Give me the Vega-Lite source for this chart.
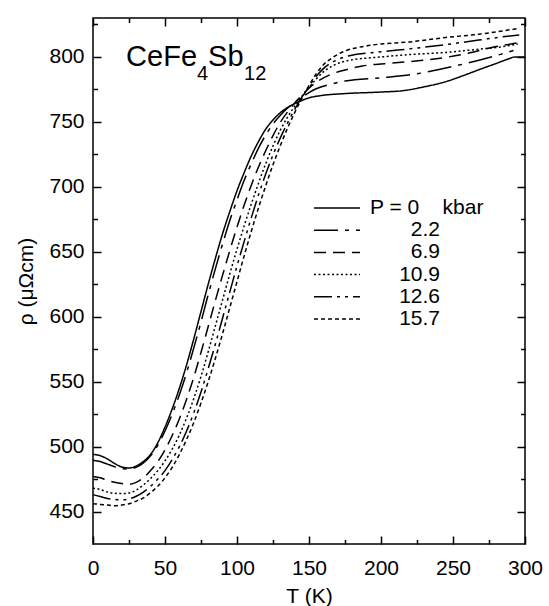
{
  "$schema": "https://vega.github.io/schema/vega-lite/v6.json",
  "width": 432,
  "height": 526,
  "autosize": {"type": "none"},
  "padding": {"left": 93, "top": 18, "right": 24, "bottom": 62},
  "background": "white",
  "datasets": {
    "curves": [
      {"P":"0","T":0,"r":494},{"P":"0","T":5,"r":493},{"P":"0","T":10,"r":490.5},{"P":"0","T":15,"r":487},{"P":"0","T":20,"r":484.3},{"P":"0","T":25,"r":483.5},{"P":"0","T":30,"r":485},{"P":"0","T":35,"r":488.5},{"P":"0","T":40,"r":494},{"P":"0","T":45,"r":503},{"P":"0","T":50,"r":515},{"P":"0","T":55,"r":529},{"P":"0","T":60,"r":545},{"P":"0","T":65,"r":563},{"P":"0","T":70,"r":583},{"P":"0","T":75,"r":604},{"P":"0","T":80,"r":625},{"P":"0","T":85,"r":645},{"P":"0","T":90,"r":664},{"P":"0","T":95,"r":681},{"P":"0","T":100,"r":697},{"P":"0","T":105,"r":711},{"P":"0","T":110,"r":724},{"P":"0","T":115,"r":735},{"P":"0","T":120,"r":744.5},{"P":"0","T":125,"r":751.5},{"P":"0","T":130,"r":757},{"P":"0","T":135,"r":761},{"P":"0","T":140,"r":764},{"P":"0","T":145,"r":766.5},{"P":"0","T":150,"r":768.5},{"P":"0","T":160,"r":770.5},{"P":"0","T":175,"r":771.8},{"P":"0","T":200,"r":773},{"P":"0","T":215,"r":774},{"P":"0","T":230,"r":777},{"P":"0","T":245,"r":781},{"P":"0","T":258,"r":786},{"P":"0","T":270,"r":791},{"P":"0","T":280,"r":795},{"P":"0","T":288,"r":798.3},{"P":"0","T":293,"r":800},{"P":"0","T":300,"r":800},
      {"P":"2.2","T":0,"r":489.5},{"P":"2.2","T":5,"r":488.5},{"P":"2.2","T":10,"r":486.5},{"P":"2.2","T":15,"r":484.5},{"P":"2.2","T":20,"r":483},{"P":"2.2","T":25,"r":482.8},{"P":"2.2","T":30,"r":484},{"P":"2.2","T":35,"r":487.5},{"P":"2.2","T":40,"r":493},{"P":"2.2","T":45,"r":501},{"P":"2.2","T":50,"r":512},{"P":"2.2","T":55,"r":525},{"P":"2.2","T":60,"r":540},{"P":"2.2","T":65,"r":557},{"P":"2.2","T":70,"r":576},{"P":"2.2","T":75,"r":596},{"P":"2.2","T":80,"r":617},{"P":"2.2","T":85,"r":637},{"P":"2.2","T":90,"r":656},{"P":"2.2","T":95,"r":674},{"P":"2.2","T":100,"r":690},{"P":"2.2","T":105,"r":705},{"P":"2.2","T":110,"r":718},{"P":"2.2","T":115,"r":730},{"P":"2.2","T":120,"r":740},{"P":"2.2","T":125,"r":748.5},{"P":"2.2","T":130,"r":755},{"P":"2.2","T":135,"r":760.5},{"P":"2.2","T":140,"r":765},{"P":"2.2","T":145,"r":769},{"P":"2.2","T":150,"r":772.5},{"P":"2.2","T":155,"r":775.5},{"P":"2.2","T":165,"r":779},{"P":"2.2","T":175,"r":781.5},{"P":"2.2","T":200,"r":784},{"P":"2.2","T":222,"r":786.5},{"P":"2.2","T":245,"r":791.5},{"P":"2.2","T":268,"r":797.5},{"P":"2.2","T":283,"r":802},{"P":"2.2","T":292,"r":805},
      {"P":"6.9","T":0,"r":477},{"P":"6.9","T":5,"r":476},{"P":"6.9","T":10,"r":474},{"P":"6.9","T":15,"r":472.5},{"P":"6.9","T":20,"r":471.5},{"P":"6.9","T":25,"r":471},{"P":"6.9","T":30,"r":472.5},{"P":"6.9","T":35,"r":476},{"P":"6.9","T":40,"r":481.5},{"P":"6.9","T":45,"r":488.5},{"P":"6.9","T":50,"r":497.5},{"P":"6.9","T":55,"r":508.5},{"P":"6.9","T":60,"r":521.5},{"P":"6.9","T":65,"r":536.5},{"P":"6.9","T":70,"r":553.5},{"P":"6.9","T":75,"r":572.5},{"P":"6.9","T":80,"r":592.5},{"P":"6.9","T":85,"r":612.5},{"P":"6.9","T":90,"r":632},{"P":"6.9","T":95,"r":651},{"P":"6.9","T":100,"r":669},{"P":"6.9","T":105,"r":686},{"P":"6.9","T":110,"r":701.5},{"P":"6.9","T":115,"r":715.5},{"P":"6.9","T":120,"r":728},{"P":"6.9","T":125,"r":739.5},{"P":"6.9","T":130,"r":749.5},{"P":"6.9","T":135,"r":757.5},{"P":"6.9","T":140,"r":764.5},{"P":"6.9","T":145,"r":770.5},{"P":"6.9","T":150,"r":776},{"P":"6.9","T":155,"r":780.5},{"P":"6.9","T":165,"r":786.5},{"P":"6.9","T":175,"r":790},{"P":"6.9","T":187,"r":793},{"P":"6.9","T":210,"r":795.5},{"P":"6.9","T":234,"r":798},{"P":"6.9","T":257,"r":802},{"P":"6.9","T":280,"r":808},{"P":"6.9","T":296,"r":811},
      {"P":"10.9","T":0,"r":468},{"P":"10.9","T":5,"r":467},{"P":"10.9","T":10,"r":465},{"P":"10.9","T":15,"r":464},{"P":"10.9","T":20,"r":463.8},{"P":"10.9","T":25,"r":464.3},{"P":"10.9","T":30,"r":466.5},{"P":"10.9","T":35,"r":470.5},{"P":"10.9","T":40,"r":475.5},{"P":"10.9","T":45,"r":481.5},{"P":"10.9","T":50,"r":489},{"P":"10.9","T":55,"r":498},{"P":"10.9","T":60,"r":509},{"P":"10.9","T":65,"r":522},{"P":"10.9","T":70,"r":537},{"P":"10.9","T":75,"r":554},{"P":"10.9","T":80,"r":573},{"P":"10.9","T":85,"r":593},{"P":"10.9","T":90,"r":613},{"P":"10.9","T":95,"r":633},{"P":"10.9","T":100,"r":652},{"P":"10.9","T":105,"r":670},{"P":"10.9","T":110,"r":687},{"P":"10.9","T":115,"r":703},{"P":"10.9","T":120,"r":718},{"P":"10.9","T":125,"r":731.5},{"P":"10.9","T":130,"r":743.5},{"P":"10.9","T":135,"r":753.5},{"P":"10.9","T":140,"r":762},{"P":"10.9","T":145,"r":769.5},{"P":"10.9","T":150,"r":776.5},{"P":"10.9","T":155,"r":783},{"P":"10.9","T":160,"r":788.5},{"P":"10.9","T":167,"r":793.5},{"P":"10.9","T":176,"r":797},{"P":"10.9","T":200,"r":800},{"P":"10.9","T":222,"r":802},{"P":"10.9","T":245,"r":803.5},{"P":"10.9","T":268,"r":806},{"P":"10.9","T":285,"r":808},{"P":"10.9","T":295,"r":810},
      {"P":"12.6","T":0,"r":463},{"P":"12.6","T":5,"r":461.5},{"P":"12.6","T":10,"r":460},{"P":"12.6","T":15,"r":459.3},{"P":"12.6","T":20,"r":459},{"P":"12.6","T":25,"r":459.7},{"P":"12.6","T":30,"r":461.8},{"P":"12.6","T":35,"r":465},{"P":"12.6","T":40,"r":469.5},{"P":"12.6","T":45,"r":475},{"P":"12.6","T":50,"r":481.5},{"P":"12.6","T":55,"r":490},{"P":"12.6","T":60,"r":500},{"P":"12.6","T":65,"r":512},{"P":"12.6","T":70,"r":526},{"P":"12.6","T":75,"r":542},{"P":"12.6","T":80,"r":560},{"P":"12.6","T":85,"r":579},{"P":"12.6","T":90,"r":599},{"P":"12.6","T":95,"r":619},{"P":"12.6","T":100,"r":639},{"P":"12.6","T":105,"r":658},{"P":"12.6","T":110,"r":676.5},{"P":"12.6","T":115,"r":694},{"P":"12.6","T":120,"r":710},{"P":"12.6","T":125,"r":724.5},{"P":"12.6","T":130,"r":737.5},{"P":"12.6","T":135,"r":749},{"P":"12.6","T":140,"r":759.5},{"P":"12.6","T":145,"r":769},{"P":"12.6","T":150,"r":777.5},{"P":"12.6","T":155,"r":785},{"P":"12.6","T":160,"r":791},{"P":"12.6","T":168,"r":797},{"P":"12.6","T":178,"r":801},{"P":"12.6","T":200,"r":804},{"P":"12.6","T":222,"r":806.5},{"P":"12.6","T":245,"r":809.5},{"P":"12.6","T":268,"r":813},{"P":"12.6","T":288,"r":816},{"P":"12.6","T":296,"r":817},
      {"P":"15.7","T":0,"r":456},{"P":"15.7","T":5,"r":455.5},{"P":"15.7","T":10,"r":455},{"P":"15.7","T":15,"r":454.5},{"P":"15.7","T":20,"r":455},{"P":"15.7","T":25,"r":456},{"P":"15.7","T":30,"r":458},{"P":"15.7","T":35,"r":460.5},{"P":"15.7","T":40,"r":464.5},{"P":"15.7","T":45,"r":469.5},{"P":"15.7","T":50,"r":476},{"P":"15.7","T":55,"r":484},{"P":"15.7","T":60,"r":494},{"P":"15.7","T":65,"r":505.5},{"P":"15.7","T":70,"r":518.5},{"P":"15.7","T":75,"r":533.5},{"P":"15.7","T":80,"r":550},{"P":"15.7","T":85,"r":568},{"P":"15.7","T":90,"r":587},{"P":"15.7","T":95,"r":607},{"P":"15.7","T":100,"r":627},{"P":"15.7","T":105,"r":647},{"P":"15.7","T":110,"r":666},{"P":"15.7","T":115,"r":684},{"P":"15.7","T":120,"r":701},{"P":"15.7","T":125,"r":717},{"P":"15.7","T":130,"r":731.5},{"P":"15.7","T":135,"r":745},{"P":"15.7","T":140,"r":757},{"P":"15.7","T":145,"r":768},{"P":"15.7","T":150,"r":778},{"P":"15.7","T":155,"r":787},{"P":"15.7","T":160,"r":794},{"P":"15.7","T":167,"r":800},{"P":"15.7","T":176,"r":805},{"P":"15.7","T":190,"r":808.5},{"P":"15.7","T":222,"r":811.8},{"P":"15.7","T":245,"r":815},{"P":"15.7","T":268,"r":817.5},{"P":"15.7","T":290,"r":821},{"P":"15.7","T":296,"r":822}
    ],
    "one": [{}]
  },
  "layer": [
    {
      "data": {"name": "curves"},
      "mark": {"type": "line", "stroke": "black", "strokeWidth": 1.5, "interpolate": "monotone"},
      "encoding": {
        "x": {"field": "T", "type": "quantitative", "scale": {"domain": [0, 300], "nice": false, "zero": false},
              "axis": {"orient": "bottom", "values": [0, 50, 100, 150, 200, 250, 300], "tickSize": -8, "labelPadding": 21, "title": "T (K)", "titlePadding": 7}},
        "y": {"field": "r", "type": "quantitative", "scale": {"domain": [425, 830], "nice": false, "zero": false},
              "axis": {"orient": "left", "values": [450, 500, 550, 600, 650, 700, 750, 800], "tickSize": -8, "labelPadding": 17, "title": "ρ (μΩcm)", "titlePadding": 12}},
        "strokeDash": {"field": "P", "type": "nominal",
          "scale": {"domain": ["0", "2.2", "6.9", "10.9", "12.6", "15.7"], "range": [[1, 0], [24, 7, 4, 7], [12, 7], [2, 2.5], [18, 5, 3, 5, 3, 5], [4, 3]]},
          "legend": {"orient": "none", "legendX": 220, "legendY": 180, "title": null, "symbolType": "stroke", "symbolSize": 2116, "symbolStrokeWidth": 1.5, "symbolStrokeColor": "black", "labelFontSize": 21, "labelFont": "Liberation Sans", "labelColor": "black", "labelOffset": 9, "clipHeight": 20, "rowPadding": 1.2, "padding": 0,
            "labelExpr": "datum.label == '0' ? 'P = 0\u00a0\u00a0\u00a0\u00a0kbar' : (datum.label == '2.2' || datum.label == '6.9') ? '\u200b\u00a0\u00a0\u00a0\u00a0\u00a0\u00a0\u00a0' + datum.label : '\u200b\u00a0\u00a0\u00a0\u00a0\u00a0' + datum.label"}}
      }
    },
    {
      "data": {"name": "curves"},
      "mark": {"type": "point", "opacity": 0},
      "encoding": {
        "x": {"field": "T", "type": "quantitative", "axis": {"orient": "bottom", "values": [25, 75, 125, 175, 225, 275], "tickSize": -4.5, "labels": false, "title": null}},
        "y": {"field": "r", "type": "quantitative", "axis": {"orient": "left", "values": [475, 525, 575, 625, 675, 725, 775, 825], "tickSize": -4.5, "labels": false, "title": null}}
      }
    },
    {
      "data": {"name": "curves"},
      "mark": {"type": "point", "opacity": 0},
      "encoding": {
        "x": {"field": "T", "type": "quantitative", "axis": {"orient": "top", "values": [0, 50, 100, 150, 200, 250, 300], "tickSize": -8, "labels": false, "title": null}},
        "y": {"field": "r", "type": "quantitative", "axis": {"orient": "right", "values": [450, 500, 550, 600, 650, 700, 750, 800], "tickSize": -8, "labels": false, "title": null}}
      }
    },
    {
      "data": {"name": "curves"},
      "mark": {"type": "point", "opacity": 0},
      "encoding": {
        "x": {"field": "T", "type": "quantitative", "axis": {"orient": "top", "values": [25, 75, 125, 175, 225, 275], "tickSize": -4.5, "labels": false, "title": null}},
        "y": {"field": "r", "type": "quantitative", "axis": {"orient": "right", "values": [475, 525, 575, 625, 675, 725, 775, 825], "tickSize": -4.5, "labels": false, "title": null}}
      }
    },
    {
      "data": {"name": "one"},
      "mark": {"type": "text", "text": "CeFe", "fontSize": 29, "font": "Liberation Sans", "align": "left", "baseline": "alphabetic", "color": "black"},
      "encoding": {"x": {"datum": 23, "type": "quantitative", "axis": null}, "y": {"datum": 793, "type": "quantitative", "axis": null}}
    },
    {
      "data": {"name": "one"},
      "mark": {"type": "text", "text": "4", "fontSize": 20, "font": "Liberation Sans", "align": "left", "baseline": "alphabetic", "dx": 71, "dy": 14, "color": "black"},
      "encoding": {"x": {"datum": 23, "type": "quantitative", "axis": null}, "y": {"datum": 793, "type": "quantitative", "axis": null}}
    },
    {
      "data": {"name": "one"},
      "mark": {"type": "text", "text": "Sb", "fontSize": 29, "font": "Liberation Sans", "align": "left", "baseline": "alphabetic", "dx": 82, "color": "black"},
      "encoding": {"x": {"datum": 23, "type": "quantitative", "axis": null}, "y": {"datum": 793, "type": "quantitative", "axis": null}}
    },
    {
      "data": {"name": "one"},
      "mark": {"type": "text", "text": "12", "fontSize": 20, "font": "Liberation Sans", "align": "left", "baseline": "alphabetic", "dx": 118, "dy": 14, "color": "black"},
      "encoding": {"x": {"datum": 23, "type": "quantitative", "axis": null}, "y": {"datum": 793, "type": "quantitative", "axis": null}}
    }
  ],
  "resolve": {"axis": {"x": "independent", "y": "independent"}},
  "config": {
    "font": "Liberation Sans",
    "view": {"stroke": "black", "strokeWidth": 1.5},
    "axis": {"grid": false, "domain": false, "tickColor": "black", "tickWidth": 1.5, "labelFont": "Liberation Sans", "labelFontSize": 21, "labelColor": "black", "labelFlush": false, "titleFont": "Liberation Sans", "titleFontSize": 21, "titleFontWeight": "normal", "titleColor": "black"}
  }
}
